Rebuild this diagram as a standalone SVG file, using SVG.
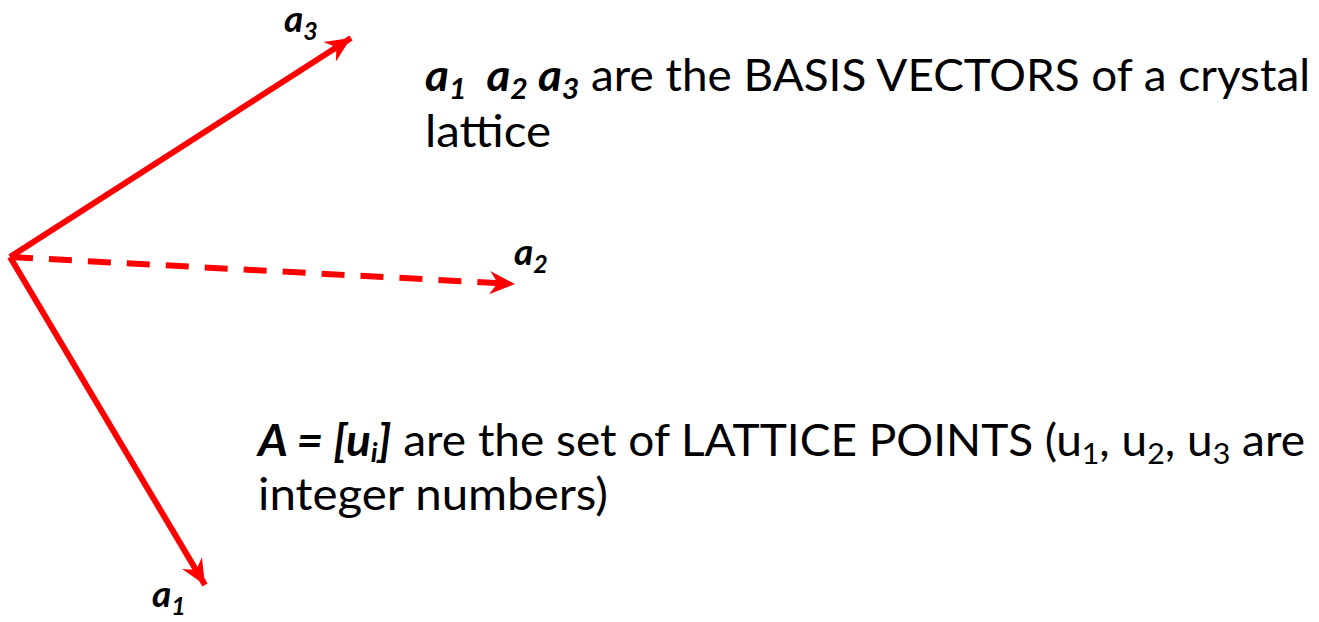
<svg xmlns="http://www.w3.org/2000/svg" width="1319" height="622" viewBox="0 0 1319 622">
<style>
.vec{stroke:#FF0000;stroke-width:6;fill:none}
.dash{stroke-dasharray:23 16}
.t{font-family:Lato,"Open Sans","Liberation Sans",sans-serif;font-size:44px;fill:#000}
.lbl{font-family:Lato,"Open Sans","Liberation Sans",sans-serif;font-size:37px;font-weight:bold;font-style:italic;fill:#000}
.b{font-weight:bold;font-style:italic}
</style>
<defs>
<marker id="ah" markerUnits="userSpaceOnUse" markerWidth="30" markerHeight="30" viewBox="-24 -12 26 24" refX="0" refY="0" orient="auto">
<path d="M-22,-10 L0,0 L-22,10 L-15,0 Z" fill="#FF0000"/>
</marker>
</defs>
<g id="connectors">
<line id="v3" class="vec" x1="10" y1="257" x2="351" y2="38" marker-end="url(#ah)"/>
<line id="v2" class="vec dash" x1="10" y1="257" x2="515" y2="284" marker-end="url(#ah)"/>
<line id="v1" class="vec" x1="10" y1="257" x2="205" y2="585" marker-end="url(#ah)"/>
</g>
<g id="label-a3"><text class="lbl" x="284" y="32">a<tspan font-size="25" dy="8">3</tspan></text></g>
<g id="label-a2"><text class="lbl" x="514" y="265">a<tspan font-size="25" dy="8">2</tspan></text></g>
<g id="label-a1"><text class="lbl" x="152" y="607">a<tspan font-size="25" dy="8">1</tspan></text></g>
<g id="text-basis">
<text class="t" x="425" y="91" textLength="885" lengthAdjust="spacingAndGlyphs" xml:space="preserve"><tspan class="b">a</tspan><tspan class="b" font-size="29" dy="8">1</tspan><tspan class="b" dy="-8">  a</tspan><tspan class="b" font-size="29" dy="8">2</tspan><tspan class="b" dy="-8"> a</tspan><tspan class="b" font-size="29" dy="8">3</tspan><tspan dy="-8"> are the BASIS VECTORS of a crystal</tspan></text>
<text class="t" x="425" y="147" textLength="126" lengthAdjust="spacingAndGlyphs">lattice</text>
</g>
<g id="text-lattice">
<text class="t" x="258" y="456" textLength="1047" lengthAdjust="spacingAndGlyphs"><tspan class="b">A = [u</tspan><tspan class="b" font-size="27" dy="6">i</tspan><tspan class="b" dy="-6">]</tspan><tspan> are the set of LATTICE POINTS (u</tspan><tspan font-size="29" dy="8">1</tspan><tspan dy="-8">, u</tspan><tspan font-size="29" dy="8">2</tspan><tspan dy="-8">, u</tspan><tspan font-size="29" dy="8">3</tspan><tspan dy="-8"> are</tspan></text>
<text class="t" x="258" y="510" textLength="350" lengthAdjust="spacingAndGlyphs">integer numbers)</text>
</g>
</svg>
